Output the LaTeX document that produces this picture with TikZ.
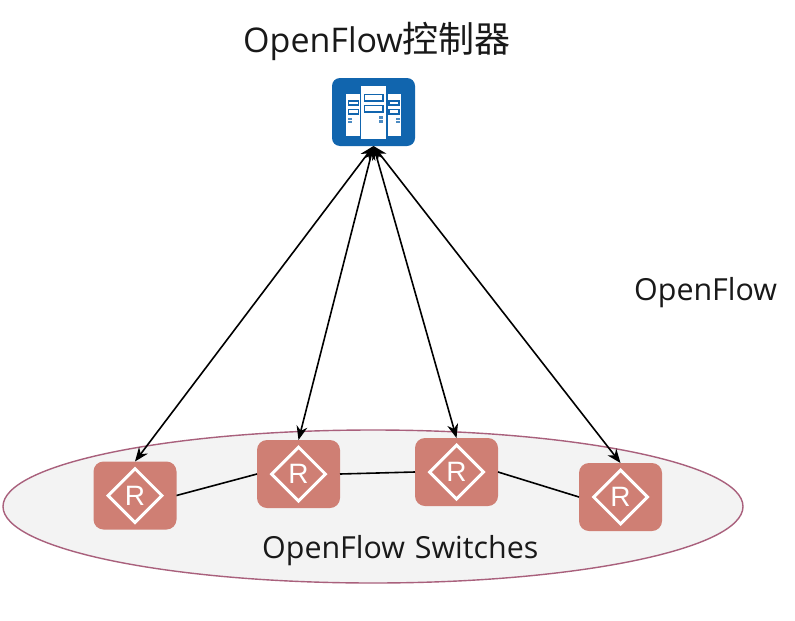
\documentclass[tikz,border=0pt]{standalone}
\usepackage{fontspec}
\setmainfont{Open Sans}
\newfontfamily\cjkfont{Noto Sans CJK SC}
\newfontfamily\rfont{Liberation Sans}
\usetikzlibrary{arrows.meta,shapes.geometric}
\definecolor{routerred}{HTML}{CF7F74}
\definecolor{ctrlblue}{HTML}{1165AE}
\definecolor{ringline}{HTML}{A9607C}
\definecolor{ringfill}{HTML}{F3F3F3}
\tikzset{
  x=1pt,y=-1pt,
  routerbox/.style={draw=none,fill=routerred,rounded corners=10pt,minimum width=83pt,minimum height=68pt,inner sep=0pt,outer sep=0pt},
  routermark/.style={diamond,draw=white,line width=3pt,minimum width=55pt,minimum height=55pt,inner sep=0pt,text=white,font=\fontsize{28}{28}\selectfont\rfont,aspect=1},
  ctrlbox/.style={draw=none,fill=ctrlblue,rounded corners=8pt,minimum width=83pt,minimum height=68pt,inner sep=0pt,outer sep=0pt},
  tower/.style={fill=white,draw=none},
  slot/.style={draw=ctrlblue,line width=1.6pt,fill=white},
  dot/.style={fill=ctrlblue!75,draw=none},
  biarrow/.style={draw=black,line width=1.6pt,{Stealth[length=14pt,width=11pt]}-{Stealth[length=14pt,width=11pt]}},
  link/.style={draw=black,line width=1.6pt},
  lbl/.style={font=\fontsize{30.4}{34}\selectfont,text=black!90,inner sep=0pt},
  titlelbl/.style={font=\fontsize{34}{38}\selectfont,text=black!90,inner sep=0pt},
}
\begin{document}
\begin{tikzpicture}
\useasboundingbox (0,0) rectangle (795,621);
\fill[white] (0,0) rectangle (795,621);
\node[ellipse,draw=ringline,fill=ringfill,line width=1.4pt,minimum width=740pt,minimum height=153pt,inner sep=0pt] (ring) at (373,506.5) {};

\node[ctrlbox] (ctrl) at (373.5,112) {};
\fill[tower] (346,94) rectangle (359.5,136);
\fill[tower] (361,86) rectangle (386,139);
\fill[tower] (388,94) rectangle (401,136);
\draw[slot] (348.5,101.2) rectangle (358.5,105.2);
\draw[slot] (348.5,109.5) rectangle (358.5,113.8);
\draw[slot] (364.5,94.5) rectangle (383,100.7);
\draw[slot] (364.5,105.5) rectangle (383,111.7);
\draw[slot] (389,101.2) rectangle (399,105.2);
\draw[slot] (389,109.5) rectangle (399,113.8);
\fill[dot] (348,117.5) rectangle (351.5,120);
\fill[dot] (348,121) rectangle (351.5,123);
\fill[dot] (379,116) rectangle (383,119);
\fill[dot] (379,120) rectangle (383,122.7);
\fill[dot] (396,117.5) rectangle (399.5,120);
\fill[dot] (396,121) rectangle (399.5,123);

\node[routerbox] (r1) at (135,495.5) {};
\node[routerbox] (r2) at (298.5,474) {};
\node[routerbox] (r3) at (456.5,472) {};
\node[routerbox] (r4) at (620.5,497) {};
\node[routermark] at (r1) {R};
\node[routermark] at (r2) {R};
\node[routermark] at (r3) {R};
\node[routermark] at (r4) {R};

\draw[link] (r1.east) -- (r2.west);
\draw[link] (r2.east) -- (r3.west);
\draw[link] (r3.east) -- (r4.west);

\draw[biarrow] (ctrl.south) -- (r1.north);
\draw[biarrow] (ctrl.south) -- (r2.north);
\draw[biarrow] (ctrl.south) -- (r3.north);
\draw[biarrow] (ctrl.south) -- (r4.north);

\node[titlelbl,anchor=base west] (title) at (243,52) {OpenFlow{\cjkfont\fontsize{36}{38}\selectfont 控制器}};
\node[lbl,anchor=base west] (proto) at (634,300) {OpenFlow};
\node[lbl,anchor=base west] (sw) at (262,558) {OpenFlow\hspace{2pt} Switches};
\end{tikzpicture}
\end{document}
